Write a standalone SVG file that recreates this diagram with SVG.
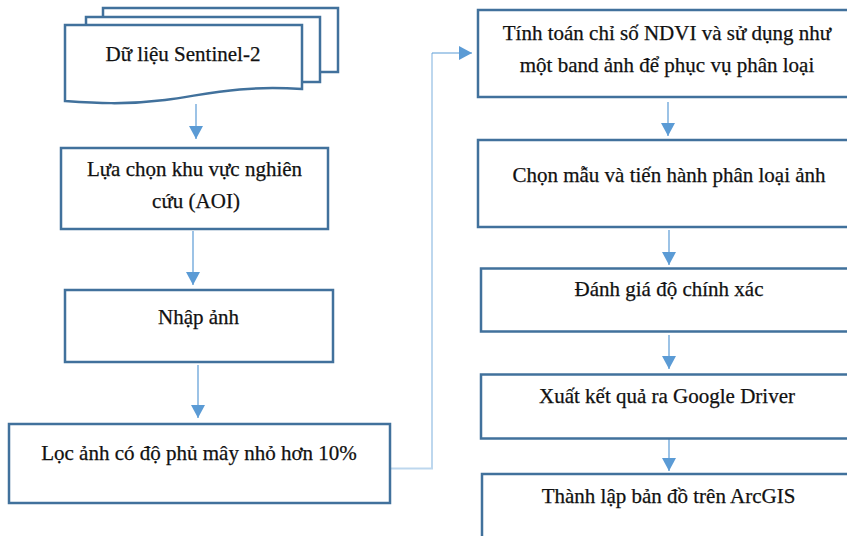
<svg xmlns="http://www.w3.org/2000/svg" width="847" height="536" viewBox="0 0 847 536">
<style>
.box{fill:#fff;stroke:#41719C;stroke-width:2.5}
.t{font-family:"Liberation Serif","Times New Roman",serif;font-size:21px;fill:#111;stroke:#111;stroke-width:0.25;text-anchor:middle}
.ln{fill:none;stroke:#5B9BD5;stroke-width:1.2}
.el{fill:none;stroke:#BDD7EE;stroke-width:2}
</style>
<defs>
<marker id="ah" markerUnits="userSpaceOnUse" markerWidth="14" markerHeight="14" viewBox="0 0 14 14" refX="13" refY="7" orient="auto">
<path d="M0,0 L13,7 L0,14 Z" fill="#5B9BD5"/>
</marker>
</defs>
<rect width="847" height="536" fill="#fff"/>
<g id="connectors">
<line class="ln" x1="196" y1="104" x2="196" y2="139" marker-end="url(#ah)"/>
<line class="ln" x1="193" y1="231" x2="193" y2="285" marker-end="url(#ah)"/>
<line class="ln" x1="198" y1="365" x2="198" y2="418" marker-end="url(#ah)"/>
<path class="el" d="M391,468.5 H432 V53"/>
<line class="ln" x1="432" y1="53" x2="472" y2="53" marker-end="url(#ah)"/>
<line class="ln" x1="668" y1="102" x2="668" y2="136" marker-end="url(#ah)"/>
<line class="ln" x1="669" y1="230" x2="669" y2="265" marker-end="url(#ah)"/>
<line class="ln" x1="669" y1="335" x2="669" y2="369" marker-end="url(#ah)"/>
<line class="ln" x1="669" y1="439" x2="669" y2="471" marker-end="url(#ah)"/>
</g>
<g id="n1">
<rect class="box" x="103" y="8" width="235" height="64"/>
<rect class="box" x="86" y="17" width="234" height="65"/>
<path class="box" d="M65,25 H302 V89 C235,85 205,95 165,100 C125,105 95,103 65,101 Z"/>
<text class="t" x="183" y="61">Dữ liệu Sentinel-2</text>
</g>
<g id="n2">
<rect class="box" x="61" y="148" width="267" height="81"/>
<text class="t" x="194.5" y="176">Lựa chọn khu vực nghiên</text>
<text class="t" x="196" y="208">cứu (AOI)</text>
</g>
<g id="n3">
<rect class="box" x="65" y="290" width="268" height="72"/>
<text class="t" x="198.5" y="324">Nhập ảnh</text>
</g>
<g id="n4">
<rect class="box" x="9" y="424" width="381" height="79"/>
<text class="t" x="199" y="460">Lọc ảnh có độ phủ mây nhỏ hơn 10%</text>
</g>
<g id="n5">
<rect class="box" x="478" y="10" width="380" height="87"/>
<text class="t" x="667" y="40">Tính toán chỉ số NDVI và sử dụng như</text>
<text class="t" x="667" y="72">một band ảnh để phục vụ phân loại</text>
</g>
<g id="n6">
<rect class="box" x="478" y="140" width="380" height="87"/>
<text class="t" x="669" y="182">Chọn mẫu và tiến hành phân loại ảnh</text>
</g>
<g id="n7">
<rect class="box" x="481" y="268.5" width="380" height="63"/>
<text class="t" x="669" y="296">Đánh giá độ chính xác</text>
</g>
<g id="n8">
<rect class="box" x="481" y="374.5" width="380" height="64"/>
<text class="t" x="667" y="403">Xuất kết quả ra Google Driver</text>
</g>
<g id="n9">
<rect class="box" x="482" y="474" width="380" height="90"/>
<text class="t" x="668.5" y="503">Thành lập bản đồ trên ArcGIS</text>
</g>
</svg>
